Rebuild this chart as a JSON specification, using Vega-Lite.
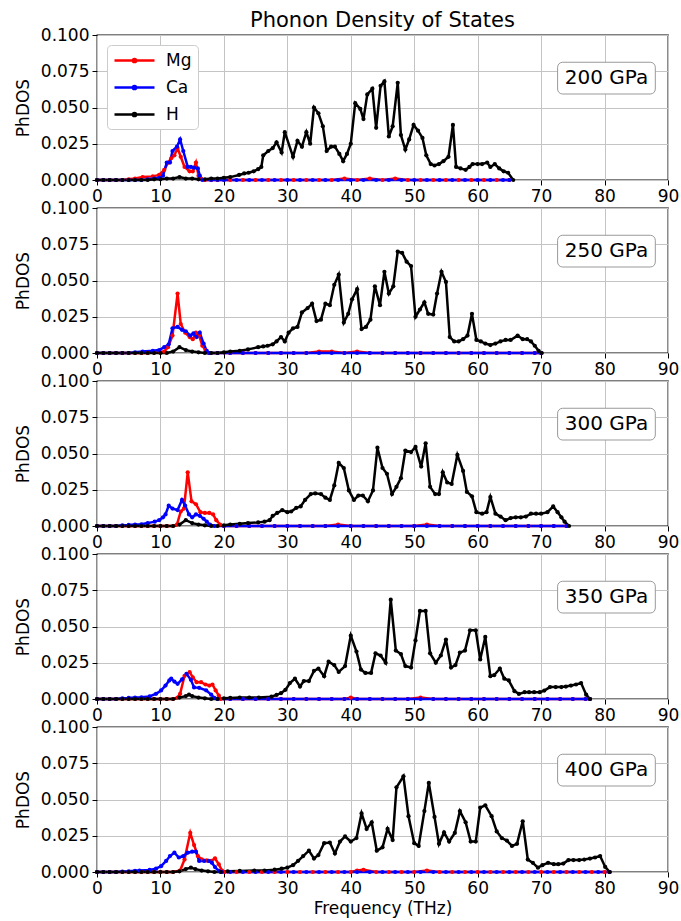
{
"$schema": "https://vega.github.io/schema/vega-lite/v6.json",
"padding": {"left": 13, "top": 10, "right": 0, "bottom": 2},
"title": {"text": "Phonon Density of States", "fontSize": 21, "fontWeight": "normal", "anchor": "middle", "frame": "group", "offset": -6, "color": "black"},
"config": {
 "font": "DejaVu Sans",
 "view": {"stroke": "black", "strokeWidth": 1.3},
 "axis": {"labelFontSize": 17, "titleFontSize": 17, "titleFontWeight": "normal", "labelColor": "black", "titleColor": "black", "tickColor": "black", "tickSize": 5, "labelPadding": 3, "domain": false, "gridColor": "#c4c4c4", "gridWidth": 1, "labelOverlap": false},
 "axisX": {"labelFlush": false},
 "axisY": {"titlePadding": 8}
},
"datasets": {
"p200": [
{"s":"Mg","f":0,"v":0},{"s":"Mg","f":1,"v":0},{"s":"Mg","f":2,"v":0},{"s":"Mg","f":3,"v":0},{"s":"Mg","f":4,"v":0},{"s":"Mg","f":5,"v":0.0005},{"s":"Mg","f":6,"v":0.001},{"s":"Mg","f":7.2,"v":0.002},{"s":"Mg","f":8.8,"v":0.0025},{"s":"Mg","f":9.8,"v":0.0035},{"s":"Mg","f":10.6,"v":0.007},{"s":"Mg","f":11.2,"v":0.012},{"s":"Mg","f":11.7,"v":0.015},{"s":"Mg","f":12.2,"v":0.017},{"s":"Mg","f":12.7,"v":0.022},{"s":"Mg","f":13.2,"v":0.016},{"s":"Mg","f":13.8,"v":0.009},{"s":"Mg","f":14.6,"v":0.006},{"s":"Mg","f":15.1,"v":0.006},{"s":"Mg","f":15.6,"v":0.012},{"s":"Mg","f":16,"v":0.003},{"s":"Mg","f":16.4,"v":0.001},{"s":"Mg","f":17,"v":0},{"s":"Mg","f":18,"v":0},{"s":"Mg","f":19,"v":0},{"s":"Mg","f":21,"v":0},{"s":"Mg","f":23,"v":0},{"s":"Mg","f":25,"v":0},{"s":"Mg","f":27,"v":0},{"s":"Mg","f":29,"v":0},{"s":"Mg","f":31,"v":0},{"s":"Mg","f":33,"v":0},{"s":"Mg","f":35,"v":0},{"s":"Mg","f":37,"v":0},{"s":"Mg","f":39,"v":0.001},{"s":"Mg","f":41,"v":0},{"s":"Mg","f":43,"v":0.001},{"s":"Mg","f":45,"v":0},{"s":"Mg","f":47,"v":0.001},{"s":"Mg","f":49,"v":0},{"s":"Mg","f":51,"v":0},{"s":"Mg","f":53,"v":0},{"s":"Mg","f":55,"v":0},{"s":"Mg","f":57,"v":0},{"s":"Mg","f":59,"v":0},{"s":"Mg","f":61,"v":0},{"s":"Mg","f":63,"v":0},{"s":"Mg","f":65,"v":0},
{"s":"Ca","f":0,"v":0},{"s":"Ca","f":1,"v":0},{"s":"Ca","f":2,"v":0},{"s":"Ca","f":3,"v":0},{"s":"Ca","f":4,"v":0},{"s":"Ca","f":5,"v":0},{"s":"Ca","f":6,"v":0},{"s":"Ca","f":7,"v":0},{"s":"Ca","f":8,"v":0.0005},{"s":"Ca","f":9,"v":0.001},{"s":"Ca","f":9.8,"v":0.0015},{"s":"Ca","f":10.4,"v":0.003},{"s":"Ca","f":11,"v":0.012},{"s":"Ca","f":11.5,"v":0.012},{"s":"Ca","f":11.9,"v":0.02},{"s":"Ca","f":12.6,"v":0.023},{"s":"Ca","f":13.1,"v":0.028},{"s":"Ca","f":13.6,"v":0.02},{"s":"Ca","f":14.3,"v":0.009},{"s":"Ca","f":14.8,"v":0.009},{"s":"Ca","f":15.3,"v":0.0085},{"s":"Ca","f":15.9,"v":0.008},{"s":"Ca","f":16.2,"v":0.003},{"s":"Ca","f":16.6,"v":0},{"s":"Ca","f":18,"v":0},{"s":"Ca","f":19,"v":0},{"s":"Ca","f":20,"v":0},{"s":"Ca","f":22,"v":0},{"s":"Ca","f":24,"v":0},{"s":"Ca","f":26,"v":0},{"s":"Ca","f":28,"v":0},{"s":"Ca","f":30,"v":0},{"s":"Ca","f":32,"v":0},{"s":"Ca","f":34,"v":0},{"s":"Ca","f":36,"v":0},{"s":"Ca","f":38,"v":0},{"s":"Ca","f":40,"v":0},{"s":"Ca","f":42,"v":0},{"s":"Ca","f":44,"v":0},{"s":"Ca","f":46,"v":0},{"s":"Ca","f":48,"v":0},{"s":"Ca","f":50,"v":0},{"s":"Ca","f":52,"v":0},{"s":"Ca","f":54,"v":0},{"s":"Ca","f":56,"v":0},{"s":"Ca","f":58,"v":0},{"s":"Ca","f":60,"v":0},{"s":"Ca","f":62,"v":0},{"s":"Ca","f":64,"v":0},{"s":"Ca","f":65,"v":0},
{"s":"H","f":0,"v":0},{"s":"H","f":1,"v":0},{"s":"H","f":2,"v":0},{"s":"H","f":3,"v":0},{"s":"H","f":4,"v":0},{"s":"H","f":5,"v":0},{"s":"H","f":6,"v":0},{"s":"H","f":7,"v":0},{"s":"H","f":8,"v":0},{"s":"H","f":9,"v":0.0005},{"s":"H","f":10,"v":0.0005},{"s":"H","f":11,"v":0.001},{"s":"H","f":12,"v":0.001},{"s":"H","f":13,"v":0.002},{"s":"H","f":14,"v":0.001},{"s":"H","f":15,"v":0.001},{"s":"H","f":16,"v":0.0005},{"s":"H","f":17,"v":0.0005},{"s":"H","f":18,"v":0.001},{"s":"H","f":19,"v":0.001},{"s":"H","f":20,"v":0.0015},{"s":"H","f":21,"v":0.002},{"s":"H","f":22.4,"v":0.0035},{"s":"H","f":23.2,"v":0.0045},{"s":"H","f":23.9,"v":0.005},{"s":"H","f":24.7,"v":0.006},{"s":"H","f":25.4,"v":0.0075},{"s":"H","f":25.9,"v":0.009},{"s":"H","f":26.2,"v":0.017},{"s":"H","f":27,"v":0.02},{"s":"H","f":27.7,"v":0.022},{"s":"H","f":28.3,"v":0.026},{"s":"H","f":29.1,"v":0.019},{"s":"H","f":29.6,"v":0.033},{"s":"H","f":30.9,"v":0.016},{"s":"H","f":31.6,"v":0.027},{"s":"H","f":32.3,"v":0.023},{"s":"H","f":33,"v":0.033},{"s":"H","f":33.6,"v":0.025},{"s":"H","f":34.2,"v":0.05},{"s":"H","f":34.9,"v":0.046},{"s":"H","f":35.6,"v":0.037},{"s":"H","f":36.2,"v":0.02},{"s":"H","f":36.9,"v":0.023},{"s":"H","f":37.5,"v":0.023},{"s":"H","f":38.2,"v":0.018},{"s":"H","f":38.8,"v":0.013},{"s":"H","f":39.4,"v":0.018},{"s":"H","f":40,"v":0.025},{"s":"H","f":40.7,"v":0.053},{"s":"H","f":41.5,"v":0.049},{"s":"H","f":42,"v":0.042},{"s":"H","f":42.6,"v":0.059},{"s":"H","f":43.4,"v":0.063},{"s":"H","f":44,"v":0.036},{"s":"H","f":44.7,"v":0.065},{"s":"H","f":45.3,"v":0.068},{"s":"H","f":46,"v":0.03},{"s":"H","f":46.6,"v":0.037},{"s":"H","f":47.4,"v":0.067},{"s":"H","f":47.9,"v":0.031},{"s":"H","f":48.6,"v":0.021},{"s":"H","f":49.2,"v":0.028},{"s":"H","f":49.9,"v":0.038},{"s":"H","f":50.6,"v":0.034},{"s":"H","f":51.3,"v":0.029},{"s":"H","f":51.9,"v":0.017},{"s":"H","f":52.6,"v":0.011},{"s":"H","f":53.2,"v":0.01},{"s":"H","f":53.9,"v":0.011},{"s":"H","f":54.6,"v":0.013},{"s":"H","f":55.4,"v":0.016},{"s":"H","f":56.1,"v":0.038},{"s":"H","f":56.6,"v":0.009},{"s":"H","f":57.3,"v":0.008},{"s":"H","f":58.1,"v":0.007},{"s":"H","f":58.7,"v":0.009},{"s":"H","f":59.2,"v":0.011},{"s":"H","f":60,"v":0.011},{"s":"H","f":60.7,"v":0.011},{"s":"H","f":61.5,"v":0.012},{"s":"H","f":62,"v":0.009},{"s":"H","f":62.7,"v":0.011},{"s":"H","f":63.4,"v":0.008},{"s":"H","f":64.1,"v":0.006},{"s":"H","f":64.8,"v":0.005},{"s":"H","f":65.6,"v":0}
],
"p250": [
{"s":"Mg","f":0,"v":0},{"s":"Mg","f":1,"v":0},{"s":"Mg","f":2,"v":0},{"s":"Mg","f":3,"v":0},{"s":"Mg","f":4,"v":0},{"s":"Mg","f":5,"v":0},{"s":"Mg","f":6,"v":0},{"s":"Mg","f":7,"v":0},{"s":"Mg","f":8,"v":0},{"s":"Mg","f":9,"v":0.0003},{"s":"Mg","f":10,"v":0.0005},{"s":"Mg","f":10.6,"v":0.001},{"s":"Mg","f":11.2,"v":0.004},{"s":"Mg","f":11.9,"v":0.012},{"s":"Mg","f":12.7,"v":0.041},{"s":"Mg","f":13.2,"v":0.02},{"s":"Mg","f":13.9,"v":0.014},{"s":"Mg","f":14.6,"v":0.011},{"s":"Mg","f":15.1,"v":0.0095},{"s":"Mg","f":15.6,"v":0.014},{"s":"Mg","f":16.1,"v":0.012},{"s":"Mg","f":16.6,"v":0.005},{"s":"Mg","f":17.1,"v":0.002},{"s":"Mg","f":17.6,"v":0},{"s":"Mg","f":19,"v":0},{"s":"Mg","f":21,"v":0},{"s":"Mg","f":23,"v":0},{"s":"Mg","f":25,"v":0},{"s":"Mg","f":27,"v":0},{"s":"Mg","f":29,"v":0},{"s":"Mg","f":31,"v":0},{"s":"Mg","f":33,"v":0},{"s":"Mg","f":35,"v":0.001},{"s":"Mg","f":37,"v":0.001},{"s":"Mg","f":39,"v":0},{"s":"Mg","f":41,"v":0.001},{"s":"Mg","f":43,"v":0},{"s":"Mg","f":45,"v":0},{"s":"Mg","f":47,"v":0},{"s":"Mg","f":49,"v":0},{"s":"Mg","f":51,"v":0},{"s":"Mg","f":53,"v":0},{"s":"Mg","f":55,"v":0},{"s":"Mg","f":57,"v":0},{"s":"Mg","f":59,"v":0},{"s":"Mg","f":61,"v":0},{"s":"Mg","f":63,"v":0},{"s":"Mg","f":65,"v":0},{"s":"Mg","f":67,"v":0},{"s":"Mg","f":69,"v":0},{"s":"Mg","f":70,"v":0},
{"s":"Ca","f":0,"v":0},{"s":"Ca","f":1,"v":0},{"s":"Ca","f":2,"v":0},{"s":"Ca","f":3,"v":0},{"s":"Ca","f":4,"v":0},{"s":"Ca","f":5,"v":0},{"s":"Ca","f":6,"v":0.0005},{"s":"Ca","f":7.2,"v":0.001},{"s":"Ca","f":8.8,"v":0.0015},{"s":"Ca","f":9.8,"v":0.002},{"s":"Ca","f":10.6,"v":0.004},{"s":"Ca","f":11.3,"v":0.006},{"s":"Ca","f":11.9,"v":0.017},{"s":"Ca","f":12.7,"v":0.018},{"s":"Ca","f":13.4,"v":0.016},{"s":"Ca","f":14,"v":0.015},{"s":"Ca","f":14.7,"v":0.012},{"s":"Ca","f":15.2,"v":0.0135},{"s":"Ca","f":15.7,"v":0.011},{"s":"Ca","f":16.2,"v":0.014},{"s":"Ca","f":16.8,"v":0.0065},{"s":"Ca","f":17.3,"v":0.0014},{"s":"Ca","f":17.7,"v":0},{"s":"Ca","f":19,"v":0},{"s":"Ca","f":21,"v":0},{"s":"Ca","f":23,"v":0},{"s":"Ca","f":25,"v":0},{"s":"Ca","f":27,"v":0},{"s":"Ca","f":29,"v":0},{"s":"Ca","f":31,"v":0},{"s":"Ca","f":33,"v":0},{"s":"Ca","f":35,"v":0},{"s":"Ca","f":37,"v":0},{"s":"Ca","f":39,"v":0},{"s":"Ca","f":41,"v":0},{"s":"Ca","f":43,"v":0},{"s":"Ca","f":45,"v":0},{"s":"Ca","f":47,"v":0},{"s":"Ca","f":49,"v":0},{"s":"Ca","f":51,"v":0},{"s":"Ca","f":53,"v":0},{"s":"Ca","f":55,"v":0},{"s":"Ca","f":57,"v":0},{"s":"Ca","f":59,"v":0},{"s":"Ca","f":61,"v":0},{"s":"Ca","f":63,"v":0},{"s":"Ca","f":65,"v":0},{"s":"Ca","f":67,"v":0},{"s":"Ca","f":69,"v":0},{"s":"Ca","f":70,"v":0},
{"s":"H","f":0,"v":0},{"s":"H","f":1,"v":0},{"s":"H","f":2,"v":0},{"s":"H","f":3,"v":0},{"s":"H","f":4,"v":0},{"s":"H","f":5,"v":0},{"s":"H","f":6,"v":0},{"s":"H","f":7,"v":0},{"s":"H","f":8,"v":0},{"s":"H","f":9,"v":0},{"s":"H","f":10,"v":0},{"s":"H","f":11,"v":0},{"s":"H","f":12,"v":0.001},{"s":"H","f":13,"v":0.004},{"s":"H","f":14,"v":0.002},{"s":"H","f":15,"v":0.001},{"s":"H","f":16,"v":0.0005},{"s":"H","f":17,"v":0},{"s":"H","f":18,"v":0},{"s":"H","f":19,"v":0},{"s":"H","f":20,"v":0.0005},{"s":"H","f":21,"v":0.001},{"s":"H","f":22.5,"v":0.0015},{"s":"H","f":23.8,"v":0.0025},{"s":"H","f":25.4,"v":0.004},{"s":"H","f":26.2,"v":0.0045},{"s":"H","f":26.9,"v":0.005},{"s":"H","f":27.7,"v":0.006},{"s":"H","f":28.3,"v":0.008},{"s":"H","f":29,"v":0.011},{"s":"H","f":29.6,"v":0.008},{"s":"H","f":30.2,"v":0.014},{"s":"H","f":30.9,"v":0.017},{"s":"H","f":31.6,"v":0.018},{"s":"H","f":32.3,"v":0.028},{"s":"H","f":33.2,"v":0.031},{"s":"H","f":33.9,"v":0.034},{"s":"H","f":34.6,"v":0.022},{"s":"H","f":35.3,"v":0.023},{"s":"H","f":36,"v":0.034},{"s":"H","f":36.7,"v":0.033},{"s":"H","f":37.4,"v":0.047},{"s":"H","f":38.1,"v":0.054},{"s":"H","f":38.9,"v":0.021},{"s":"H","f":39.6,"v":0.027},{"s":"H","f":40.2,"v":0.037},{"s":"H","f":41,"v":0.044},{"s":"H","f":41.7,"v":0.0165},{"s":"H","f":42.4,"v":0.018},{"s":"H","f":43.1,"v":0.023},{"s":"H","f":43.8,"v":0.046},{"s":"H","f":44.6,"v":0.033},{"s":"H","f":45.3,"v":0.056},{"s":"H","f":46,"v":0.041},{"s":"H","f":46.7,"v":0.046},{"s":"H","f":47.4,"v":0.07},{"s":"H","f":48.1,"v":0.069},{"s":"H","f":48.8,"v":0.063},{"s":"H","f":49.5,"v":0.06},{"s":"H","f":50.2,"v":0.025},{"s":"H","f":50.9,"v":0.03},{"s":"H","f":51.6,"v":0.035},{"s":"H","f":52.2,"v":0.027},{"s":"H","f":53,"v":0.0265},{"s":"H","f":53.6,"v":0.041},{"s":"H","f":54.3,"v":0.056},{"s":"H","f":55,"v":0.049},{"s":"H","f":55.6,"v":0.011},{"s":"H","f":56.3,"v":0.008},{"s":"H","f":57,"v":0.008},{"s":"H","f":57.7,"v":0.0095},{"s":"H","f":58.4,"v":0.012},{"s":"H","f":59.1,"v":0.027},{"s":"H","f":59.8,"v":0.009},{"s":"H","f":60.5,"v":0.008},{"s":"H","f":61.2,"v":0.0065},{"s":"H","f":62,"v":0.0055},{"s":"H","f":62.8,"v":0.0065},{"s":"H","f":63.6,"v":0.008},{"s":"H","f":64.4,"v":0.009},{"s":"H","f":65.2,"v":0.009},{"s":"H","f":66.3,"v":0.012},{"s":"H","f":67.1,"v":0.0095},{"s":"H","f":67.8,"v":0.0095},{"s":"H","f":68.4,"v":0.008},{"s":"H","f":69,"v":0.005},{"s":"H","f":69.6,"v":0.0015},{"s":"H","f":70.1,"v":0}
],
"p300": [
{"s":"Mg","f":0,"v":0},{"s":"Mg","f":1,"v":0},{"s":"Mg","f":2,"v":0},{"s":"Mg","f":3,"v":0},{"s":"Mg","f":4,"v":0},{"s":"Mg","f":5,"v":0},{"s":"Mg","f":6,"v":0},{"s":"Mg","f":7,"v":0},{"s":"Mg","f":8,"v":0},{"s":"Mg","f":9,"v":0},{"s":"Mg","f":10,"v":0},{"s":"Mg","f":11,"v":0},{"s":"Mg","f":12,"v":0},{"s":"Mg","f":12.6,"v":0.001},{"s":"Mg","f":13.2,"v":0.01},{"s":"Mg","f":13.7,"v":0.012},{"s":"Mg","f":14.3,"v":0.037},{"s":"Mg","f":14.9,"v":0.017},{"s":"Mg","f":15.6,"v":0.015},{"s":"Mg","f":16.3,"v":0.0095},{"s":"Mg","f":17,"v":0.009},{"s":"Mg","f":17.7,"v":0.009},{"s":"Mg","f":18.3,"v":0.008},{"s":"Mg","f":18.8,"v":0.004},{"s":"Mg","f":19.4,"v":0.001},{"s":"Mg","f":20,"v":0},{"s":"Mg","f":22,"v":0},{"s":"Mg","f":24,"v":0},{"s":"Mg","f":26,"v":0},{"s":"Mg","f":28,"v":0},{"s":"Mg","f":30,"v":0},{"s":"Mg","f":32,"v":0},{"s":"Mg","f":34,"v":0},{"s":"Mg","f":36,"v":0},{"s":"Mg","f":38,"v":0.001},{"s":"Mg","f":40,"v":0},{"s":"Mg","f":42,"v":0},{"s":"Mg","f":44,"v":0},{"s":"Mg","f":46,"v":0},{"s":"Mg","f":48,"v":0},{"s":"Mg","f":50,"v":0},{"s":"Mg","f":52,"v":0.001},{"s":"Mg","f":54,"v":0},{"s":"Mg","f":56,"v":0},{"s":"Mg","f":58,"v":0},{"s":"Mg","f":60,"v":0},{"s":"Mg","f":62,"v":0},{"s":"Mg","f":64,"v":0},{"s":"Mg","f":66,"v":0},{"s":"Mg","f":68,"v":0},{"s":"Mg","f":70,"v":0},{"s":"Mg","f":72,"v":0},{"s":"Mg","f":74,"v":0},
{"s":"Ca","f":0,"v":0},{"s":"Ca","f":1,"v":0},{"s":"Ca","f":2,"v":0},{"s":"Ca","f":3,"v":0},{"s":"Ca","f":4,"v":0.0005},{"s":"Ca","f":5,"v":0.0007},{"s":"Ca","f":6,"v":0.001},{"s":"Ca","f":7,"v":0.0012},{"s":"Ca","f":8,"v":0.002},{"s":"Ca","f":9.1,"v":0.003},{"s":"Ca","f":9.8,"v":0.004},{"s":"Ca","f":10.4,"v":0.006},{"s":"Ca","f":10.8,"v":0.008},{"s":"Ca","f":11.3,"v":0.014},{"s":"Ca","f":11.9,"v":0.012},{"s":"Ca","f":12.7,"v":0.011},{"s":"Ca","f":13.4,"v":0.018},{"s":"Ca","f":13.9,"v":0.014},{"s":"Ca","f":14.5,"v":0.008},{"s":"Ca","f":15,"v":0.006},{"s":"Ca","f":15.6,"v":0.008},{"s":"Ca","f":16.2,"v":0.007},{"s":"Ca","f":16.8,"v":0.005},{"s":"Ca","f":17.3,"v":0.003},{"s":"Ca","f":17.8,"v":0.001},{"s":"Ca","f":18.5,"v":0},{"s":"Ca","f":20,"v":0},{"s":"Ca","f":22,"v":0},{"s":"Ca","f":24,"v":0},{"s":"Ca","f":26,"v":0},{"s":"Ca","f":28,"v":0},{"s":"Ca","f":30,"v":0},{"s":"Ca","f":32,"v":0},{"s":"Ca","f":34,"v":0},{"s":"Ca","f":36,"v":0},{"s":"Ca","f":38,"v":0},{"s":"Ca","f":40,"v":0},{"s":"Ca","f":42,"v":0},{"s":"Ca","f":44,"v":0},{"s":"Ca","f":46,"v":0},{"s":"Ca","f":48,"v":0},{"s":"Ca","f":50,"v":0},{"s":"Ca","f":52,"v":0},{"s":"Ca","f":54,"v":0},{"s":"Ca","f":56,"v":0},{"s":"Ca","f":58,"v":0},{"s":"Ca","f":60,"v":0},{"s":"Ca","f":62,"v":0},{"s":"Ca","f":64,"v":0},{"s":"Ca","f":66,"v":0},{"s":"Ca","f":68,"v":0},{"s":"Ca","f":70,"v":0},{"s":"Ca","f":72,"v":0},{"s":"Ca","f":74,"v":0},
{"s":"H","f":0,"v":0},{"s":"H","f":1,"v":0},{"s":"H","f":2,"v":0},{"s":"H","f":3,"v":0},{"s":"H","f":4,"v":0},{"s":"H","f":5,"v":0},{"s":"H","f":6,"v":0},{"s":"H","f":7,"v":0},{"s":"H","f":8,"v":0},{"s":"H","f":9,"v":0},{"s":"H","f":10,"v":0},{"s":"H","f":11,"v":0},{"s":"H","f":12,"v":0},{"s":"H","f":13,"v":0.001},{"s":"H","f":14,"v":0.004},{"s":"H","f":15,"v":0.002},{"s":"H","f":16,"v":0.001},{"s":"H","f":17,"v":0.0005},{"s":"H","f":18,"v":0},{"s":"H","f":19,"v":0},{"s":"H","f":20,"v":0.0005},{"s":"H","f":21,"v":0.001},{"s":"H","f":22.5,"v":0.0015},{"s":"H","f":23.8,"v":0.002},{"s":"H","f":25.4,"v":0.0025},{"s":"H","f":26.4,"v":0.003},{"s":"H","f":27.2,"v":0.004},{"s":"H","f":27.7,"v":0.007},{"s":"H","f":28.4,"v":0.009},{"s":"H","f":29.2,"v":0.011},{"s":"H","f":30,"v":0.0095},{"s":"H","f":30.6,"v":0.01},{"s":"H","f":31.4,"v":0.0125},{"s":"H","f":32.1,"v":0.0135},{"s":"H","f":32.8,"v":0.018},{"s":"H","f":33.7,"v":0.022},{"s":"H","f":34.4,"v":0.0225},{"s":"H","f":35.3,"v":0.022},{"s":"H","f":36,"v":0.0195},{"s":"H","f":36.7,"v":0.018},{"s":"H","f":37.4,"v":0.028},{"s":"H","f":38.1,"v":0.0435},{"s":"H","f":38.9,"v":0.04},{"s":"H","f":39.7,"v":0.0245},{"s":"H","f":40.5,"v":0.018},{"s":"H","f":41.2,"v":0.021},{"s":"H","f":41.9,"v":0.021},{"s":"H","f":42.7,"v":0.017},{"s":"H","f":43.5,"v":0.0245},{"s":"H","f":44.2,"v":0.054},{"s":"H","f":45,"v":0.04},{"s":"H","f":45.7,"v":0.036},{"s":"H","f":46.5,"v":0.022},{"s":"H","f":47.2,"v":0.027},{"s":"H","f":47.9,"v":0.033},{"s":"H","f":48.6,"v":0.052},{"s":"H","f":49.5,"v":0.051},{"s":"H","f":50.2,"v":0.0545},{"s":"H","f":51.1,"v":0.041},{"s":"H","f":51.8,"v":0.057},{"s":"H","f":52.5,"v":0.027},{"s":"H","f":53.3,"v":0.022},{"s":"H","f":53.9,"v":0.022},{"s":"H","f":54.5,"v":0.037},{"s":"H","f":55.2,"v":0.03},{"s":"H","f":55.9,"v":0.029},{"s":"H","f":56.8,"v":0.049},{"s":"H","f":57.7,"v":0.038},{"s":"H","f":58.3,"v":0.0235},{"s":"H","f":59.1,"v":0.0205},{"s":"H","f":59.8,"v":0.0095},{"s":"H","f":60.7,"v":0.0085},{"s":"H","f":61.4,"v":0.0095},{"s":"H","f":62,"v":0.02},{"s":"H","f":62.8,"v":0.0085},{"s":"H","f":63.6,"v":0.0065},{"s":"H","f":64.4,"v":0.004},{"s":"H","f":65.2,"v":0.0055},{"s":"H","f":66,"v":0.006},{"s":"H","f":66.8,"v":0.006},{"s":"H","f":67.6,"v":0.0065},{"s":"H","f":68.4,"v":0.0085},{"s":"H","f":69.2,"v":0.0085},{"s":"H","f":70,"v":0.0085},{"s":"H","f":71,"v":0.0095},{"s":"H","f":71.9,"v":0.0135},{"s":"H","f":72.6,"v":0.0095},{"s":"H","f":73.2,"v":0.006},{"s":"H","f":73.7,"v":0.003},{"s":"H","f":74.4,"v":0}
],
"p350": [
{"s":"Mg","f":0,"v":0},{"s":"Mg","f":1,"v":0},{"s":"Mg","f":2,"v":0},{"s":"Mg","f":3,"v":0},{"s":"Mg","f":4,"v":0},{"s":"Mg","f":5,"v":0},{"s":"Mg","f":6,"v":0},{"s":"Mg","f":7,"v":0},{"s":"Mg","f":8,"v":0},{"s":"Mg","f":9,"v":0},{"s":"Mg","f":10,"v":0},{"s":"Mg","f":11,"v":0},{"s":"Mg","f":12,"v":0},{"s":"Mg","f":12.7,"v":0.001},{"s":"Mg","f":13.1,"v":0.0036},{"s":"Mg","f":13.8,"v":0.016},{"s":"Mg","f":14.6,"v":0.0185},{"s":"Mg","f":15.1,"v":0.015},{"s":"Mg","f":15.7,"v":0.0116},{"s":"Mg","f":16.4,"v":0.0116},{"s":"Mg","f":17.1,"v":0.01},{"s":"Mg","f":17.7,"v":0.0093},{"s":"Mg","f":18.2,"v":0.01},{"s":"Mg","f":18.7,"v":0.0059},{"s":"Mg","f":19.2,"v":0.0024},{"s":"Mg","f":19.5,"v":0},{"s":"Mg","f":21,"v":0},{"s":"Mg","f":23,"v":0},{"s":"Mg","f":25,"v":0},{"s":"Mg","f":27,"v":0},{"s":"Mg","f":29,"v":0},{"s":"Mg","f":31,"v":0},{"s":"Mg","f":33,"v":0},{"s":"Mg","f":35,"v":0},{"s":"Mg","f":37,"v":0},{"s":"Mg","f":39,"v":0},{"s":"Mg","f":40,"v":0.001},{"s":"Mg","f":41,"v":0},{"s":"Mg","f":43,"v":0},{"s":"Mg","f":45,"v":0},{"s":"Mg","f":47,"v":0},{"s":"Mg","f":49,"v":0},{"s":"Mg","f":51,"v":0.001},{"s":"Mg","f":53,"v":0},{"s":"Mg","f":55,"v":0},{"s":"Mg","f":57,"v":0},{"s":"Mg","f":59,"v":0},{"s":"Mg","f":61,"v":0},{"s":"Mg","f":63,"v":0},{"s":"Mg","f":65,"v":0},{"s":"Mg","f":67,"v":0},{"s":"Mg","f":69,"v":0},{"s":"Mg","f":71,"v":0},{"s":"Mg","f":73,"v":0},{"s":"Mg","f":75,"v":0},{"s":"Mg","f":77,"v":0},{"s":"Mg","f":77.7,"v":0},
{"s":"Ca","f":0,"v":0},{"s":"Ca","f":1,"v":0},{"s":"Ca","f":2,"v":0},{"s":"Ca","f":3,"v":0},{"s":"Ca","f":4,"v":0.0005},{"s":"Ca","f":5,"v":0.0007},{"s":"Ca","f":6,"v":0.001},{"s":"Ca","f":7,"v":0.0012},{"s":"Ca","f":8.3,"v":0.0018},{"s":"Ca","f":9.3,"v":0.0036},{"s":"Ca","f":10.1,"v":0.0059},{"s":"Ca","f":10.8,"v":0.0093},{"s":"Ca","f":11.4,"v":0.0128},{"s":"Ca","f":11.7,"v":0.014},{"s":"Ca","f":12.2,"v":0.012},{"s":"Ca","f":12.7,"v":0.0105},{"s":"Ca","f":13.4,"v":0.0135},{"s":"Ca","f":14.1,"v":0.0174},{"s":"Ca","f":14.8,"v":0.0132},{"s":"Ca","f":15.3,"v":0.008},{"s":"Ca","f":16.1,"v":0.0077},{"s":"Ca","f":17.2,"v":0.006},{"s":"Ca","f":18,"v":0.003},{"s":"Ca","f":18.5,"v":0.0008},{"s":"Ca","f":19,"v":0},{"s":"Ca","f":21,"v":0},{"s":"Ca","f":23,"v":0},{"s":"Ca","f":25,"v":0},{"s":"Ca","f":27,"v":0},{"s":"Ca","f":29,"v":0},{"s":"Ca","f":31,"v":0},{"s":"Ca","f":33,"v":0},{"s":"Ca","f":35,"v":0},{"s":"Ca","f":37,"v":0},{"s":"Ca","f":39,"v":0},{"s":"Ca","f":41,"v":0},{"s":"Ca","f":43,"v":0},{"s":"Ca","f":45,"v":0},{"s":"Ca","f":47,"v":0},{"s":"Ca","f":49,"v":0},{"s":"Ca","f":51,"v":0},{"s":"Ca","f":53,"v":0},{"s":"Ca","f":55,"v":0},{"s":"Ca","f":57,"v":0},{"s":"Ca","f":59,"v":0},{"s":"Ca","f":61,"v":0},{"s":"Ca","f":63,"v":0},{"s":"Ca","f":65,"v":0},{"s":"Ca","f":67,"v":0},{"s":"Ca","f":69,"v":0},{"s":"Ca","f":71,"v":0},{"s":"Ca","f":73,"v":0},{"s":"Ca","f":75,"v":0},{"s":"Ca","f":77,"v":0},{"s":"Ca","f":77.7,"v":0},
{"s":"H","f":0,"v":0},{"s":"H","f":1,"v":0},{"s":"H","f":2,"v":0},{"s":"H","f":3,"v":0},{"s":"H","f":4,"v":0},{"s":"H","f":5,"v":0},{"s":"H","f":6,"v":0},{"s":"H","f":7,"v":0},{"s":"H","f":8,"v":0},{"s":"H","f":9,"v":0},{"s":"H","f":10,"v":0},{"s":"H","f":11,"v":0},{"s":"H","f":12,"v":0},{"s":"H","f":13,"v":0.001},{"s":"H","f":14,"v":0.002},{"s":"H","f":14.5,"v":0.003},{"s":"H","f":15,"v":0.002},{"s":"H","f":16,"v":0.001},{"s":"H","f":17,"v":0.0005},{"s":"H","f":18,"v":0},{"s":"H","f":19,"v":0},{"s":"H","f":20,"v":0.0005},{"s":"H","f":21,"v":0.0007},{"s":"H","f":22.5,"v":0.001},{"s":"H","f":24,"v":0.001},{"s":"H","f":25.5,"v":0.001},{"s":"H","f":27.5,"v":0.0016},{"s":"H","f":28.3,"v":0.0028},{"s":"H","f":29,"v":0.004},{"s":"H","f":29.7,"v":0.0063},{"s":"H","f":30.4,"v":0.011},{"s":"H","f":31.2,"v":0.014},{"s":"H","f":32,"v":0.0086},{"s":"H","f":32.6,"v":0.0124},{"s":"H","f":33.4,"v":0.0124},{"s":"H","f":34.2,"v":0.0194},{"s":"H","f":34.9,"v":0.021},{"s":"H","f":35.8,"v":0.0157},{"s":"H","f":36.5,"v":0.0257},{"s":"H","f":37.4,"v":0.0234},{"s":"H","f":38.1,"v":0.0187},{"s":"H","f":39.1,"v":0.0227},{"s":"H","f":40,"v":0.0437},{"s":"H","f":40.9,"v":0.0327},{"s":"H","f":41.6,"v":0.0203},{"s":"H","f":42.3,"v":0.018},{"s":"H","f":43.2,"v":0.018},{"s":"H","f":43.9,"v":0.0315},{"s":"H","f":44.7,"v":0.03},{"s":"H","f":45.5,"v":0.025},{"s":"H","f":46.3,"v":0.0685},{"s":"H","f":47.1,"v":0.0334},{"s":"H","f":47.9,"v":0.031},{"s":"H","f":48.6,"v":0.0227},{"s":"H","f":49.5,"v":0.0217},{"s":"H","f":50.2,"v":0.0404},{"s":"H","f":50.9,"v":0.0607},{"s":"H","f":51.8,"v":0.0607},{"s":"H","f":52.5,"v":0.0315},{"s":"H","f":53.4,"v":0.025},{"s":"H","f":54.2,"v":0.03},{"s":"H","f":55,"v":0.041},{"s":"H","f":55.8,"v":0.0217},{"s":"H","f":56.5,"v":0.0234},{"s":"H","f":57.2,"v":0.032},{"s":"H","f":58,"v":0.0334},{"s":"H","f":58.8,"v":0.0474},{"s":"H","f":59.7,"v":0.0474},{"s":"H","f":60.4,"v":0.0273},{"s":"H","f":61.2,"v":0.0428},{"s":"H","f":62,"v":0.0157},{"s":"H","f":62.6,"v":0.0164},{"s":"H","f":63.5,"v":0.021},{"s":"H","f":64.2,"v":0.014},{"s":"H","f":64.9,"v":0.0128},{"s":"H","f":65.8,"v":0.0054},{"s":"H","f":66.5,"v":0.0035},{"s":"H","f":67.4,"v":0.0047},{"s":"H","f":68.1,"v":0.0047},{"s":"H","f":68.9,"v":0.0047},{"s":"H","f":69.8,"v":0.0047},{"s":"H","f":70.5,"v":0.0058},{"s":"H","f":71.4,"v":0.0082},{"s":"H","f":72.3,"v":0.0082},{"s":"H","f":73.2,"v":0.0082},{"s":"H","f":73.9,"v":0.0086},{"s":"H","f":74.7,"v":0.0093},{"s":"H","f":75.5,"v":0.01},{"s":"H","f":76.3,"v":0.011},{"s":"H","f":77.1,"v":0.003},{"s":"H","f":77.7,"v":0}
],
"p400": [
{"s":"Mg","f":0,"v":0},{"s":"Mg","f":1,"v":0},{"s":"Mg","f":2,"v":0},{"s":"Mg","f":3,"v":0},{"s":"Mg","f":4,"v":0},{"s":"Mg","f":5,"v":0},{"s":"Mg","f":6,"v":0},{"s":"Mg","f":7,"v":0},{"s":"Mg","f":8,"v":0},{"s":"Mg","f":9,"v":0},{"s":"Mg","f":10,"v":0},{"s":"Mg","f":11,"v":0},{"s":"Mg","f":12,"v":0},{"s":"Mg","f":13.1,"v":0.001},{"s":"Mg","f":13.8,"v":0.0087},{"s":"Mg","f":14.7,"v":0.027},{"s":"Mg","f":15.3,"v":0.0186},{"s":"Mg","f":15.9,"v":0.011},{"s":"Mg","f":16.5,"v":0.0087},{"s":"Mg","f":17.3,"v":0.008},{"s":"Mg","f":18,"v":0.0076},{"s":"Mg","f":18.6,"v":0.0094},{"s":"Mg","f":19.2,"v":0.0053},{"s":"Mg","f":19.7,"v":0.001},{"s":"Mg","f":20.1,"v":0},{"s":"Mg","f":22,"v":0},{"s":"Mg","f":24,"v":0},{"s":"Mg","f":26,"v":0},{"s":"Mg","f":28,"v":0},{"s":"Mg","f":30,"v":0},{"s":"Mg","f":32,"v":0},{"s":"Mg","f":34,"v":0},{"s":"Mg","f":36,"v":0},{"s":"Mg","f":38,"v":0},{"s":"Mg","f":40,"v":0},{"s":"Mg","f":41,"v":0.001},{"s":"Mg","f":42,"v":0.0015},{"s":"Mg","f":44,"v":0},{"s":"Mg","f":46,"v":0},{"s":"Mg","f":48,"v":0},{"s":"Mg","f":50,"v":0},{"s":"Mg","f":52,"v":0.001},{"s":"Mg","f":54,"v":0},{"s":"Mg","f":56,"v":0},{"s":"Mg","f":58,"v":0},{"s":"Mg","f":60,"v":0},{"s":"Mg","f":62,"v":0},{"s":"Mg","f":64,"v":0},{"s":"Mg","f":66,"v":0},{"s":"Mg","f":68,"v":0},{"s":"Mg","f":70,"v":0},{"s":"Mg","f":72,"v":0},{"s":"Mg","f":74,"v":0},{"s":"Mg","f":76,"v":0},{"s":"Mg","f":78,"v":0},{"s":"Mg","f":80,"v":0},{"s":"Mg","f":80.8,"v":0},
{"s":"Ca","f":0,"v":0},{"s":"Ca","f":1,"v":0},{"s":"Ca","f":2,"v":0},{"s":"Ca","f":3,"v":0},{"s":"Ca","f":4,"v":0.0003},{"s":"Ca","f":5,"v":0.0005},{"s":"Ca","f":6,"v":0.0008},{"s":"Ca","f":6.7,"v":0.001},{"s":"Ca","f":8.3,"v":0.0014},{"s":"Ca","f":9.3,"v":0.0023},{"s":"Ca","f":10.1,"v":0.004},{"s":"Ca","f":10.9,"v":0.0076},{"s":"Ca","f":11.5,"v":0.011},{"s":"Ca","f":12.2,"v":0.0133},{"s":"Ca","f":12.9,"v":0.01},{"s":"Ca","f":13.6,"v":0.011},{"s":"Ca","f":14.3,"v":0.0133},{"s":"Ca","f":15,"v":0.014},{"s":"Ca","f":15.6,"v":0.014},{"s":"Ca","f":16.1,"v":0.0076},{"s":"Ca","f":16.9,"v":0.0076},{"s":"Ca","f":17.6,"v":0.0076},{"s":"Ca","f":18.1,"v":0.0064},{"s":"Ca","f":18.6,"v":0.0034},{"s":"Ca","f":19.2,"v":0.0007},{"s":"Ca","f":19.7,"v":0},{"s":"Ca","f":21,"v":0},{"s":"Ca","f":23,"v":0},{"s":"Ca","f":25,"v":0},{"s":"Ca","f":27,"v":0},{"s":"Ca","f":29,"v":0},{"s":"Ca","f":31,"v":0},{"s":"Ca","f":33,"v":0},{"s":"Ca","f":35,"v":0},{"s":"Ca","f":37,"v":0},{"s":"Ca","f":39,"v":0},{"s":"Ca","f":41,"v":0},{"s":"Ca","f":43,"v":0},{"s":"Ca","f":45,"v":0},{"s":"Ca","f":47,"v":0},{"s":"Ca","f":49,"v":0},{"s":"Ca","f":51,"v":0},{"s":"Ca","f":53,"v":0},{"s":"Ca","f":55,"v":0},{"s":"Ca","f":57,"v":0},{"s":"Ca","f":59,"v":0},{"s":"Ca","f":61,"v":0},{"s":"Ca","f":63,"v":0},{"s":"Ca","f":65,"v":0},{"s":"Ca","f":67,"v":0},{"s":"Ca","f":69,"v":0},{"s":"Ca","f":71,"v":0},{"s":"Ca","f":73,"v":0},{"s":"Ca","f":75,"v":0},{"s":"Ca","f":77,"v":0},{"s":"Ca","f":79,"v":0},{"s":"Ca","f":80.8,"v":0},
{"s":"H","f":0,"v":0},{"s":"H","f":1,"v":0},{"s":"H","f":2,"v":0},{"s":"H","f":3,"v":0},{"s":"H","f":4,"v":0},{"s":"H","f":5,"v":0},{"s":"H","f":6,"v":0},{"s":"H","f":7,"v":0},{"s":"H","f":8,"v":0},{"s":"H","f":9,"v":0},{"s":"H","f":10,"v":0},{"s":"H","f":11,"v":0},{"s":"H","f":12,"v":0},{"s":"H","f":13,"v":0.0005},{"s":"H","f":14,"v":0.002},{"s":"H","f":14.8,"v":0.003},{"s":"H","f":15.5,"v":0.002},{"s":"H","f":16.5,"v":0.001},{"s":"H","f":17.5,"v":0.0005},{"s":"H","f":18.5,"v":0},{"s":"H","f":19.5,"v":0},{"s":"H","f":20.6,"v":0.0005},{"s":"H","f":22.5,"v":0.0007},{"s":"H","f":24.8,"v":0.001},{"s":"H","f":26.4,"v":0.001},{"s":"H","f":28,"v":0.0016},{"s":"H","f":29.1,"v":0.0023},{"s":"H","f":30,"v":0.003},{"s":"H","f":30.9,"v":0.0047},{"s":"H","f":31.7,"v":0.0077},{"s":"H","f":32.5,"v":0.011},{"s":"H","f":33.4,"v":0.0147},{"s":"H","f":34.2,"v":0.0093},{"s":"H","f":34.9,"v":0.0117},{"s":"H","f":35.8,"v":0.0199},{"s":"H","f":36.7,"v":0.0203},{"s":"H","f":37.5,"v":0.0128},{"s":"H","f":38.3,"v":0.021},{"s":"H","f":39.1,"v":0.0245},{"s":"H","f":40,"v":0.021},{"s":"H","f":40.9,"v":0.0234},{"s":"H","f":41.7,"v":0.0404},{"s":"H","f":42.5,"v":0.0297},{"s":"H","f":43.3,"v":0.0343},{"s":"H","f":44.1,"v":0.0147},{"s":"H","f":45,"v":0.017},{"s":"H","f":45.8,"v":0.0297},{"s":"H","f":46.6,"v":0.022},{"s":"H","f":47.2,"v":0.0584},{"s":"H","f":48.3,"v":0.066},{"s":"H","f":49.1,"v":0.0385},{"s":"H","f":50,"v":0.0199},{"s":"H","f":50.7,"v":0.018},{"s":"H","f":51.6,"v":0.042},{"s":"H","f":52.3,"v":0.0614},{"s":"H","f":53.2,"v":0.038},{"s":"H","f":53.9,"v":0.0194},{"s":"H","f":54.7,"v":0.0273},{"s":"H","f":55.5,"v":0.021},{"s":"H","f":56.4,"v":0.0269},{"s":"H","f":57.2,"v":0.042},{"s":"H","f":58.1,"v":0.0343},{"s":"H","f":58.9,"v":0.021},{"s":"H","f":59.7,"v":0.021},{"s":"H","f":60.4,"v":0.0444},{"s":"H","f":61.2,"v":0.046},{"s":"H","f":62.2,"v":0.0385},{"s":"H","f":63,"v":0.028},{"s":"H","f":63.8,"v":0.0234},{"s":"H","f":64.6,"v":0.0217},{"s":"H","f":65.4,"v":0.018},{"s":"H","f":66.2,"v":0.0194},{"s":"H","f":67.1,"v":0.035},{"s":"H","f":67.9,"v":0.0086},{"s":"H","f":68.7,"v":0.0063},{"s":"H","f":69.5,"v":0.003},{"s":"H","f":70.2,"v":0.0047},{"s":"H","f":71.1,"v":0.0063},{"s":"H","f":72,"v":0.0054},{"s":"H","f":72.7,"v":0.0054},{"s":"H","f":73.5,"v":0.0058},{"s":"H","f":74.3,"v":0.0082},{"s":"H","f":75.1,"v":0.0082},{"s":"H","f":76,"v":0.0082},{"s":"H","f":76.8,"v":0.0086},{"s":"H","f":77.7,"v":0.0093},{"s":"H","f":78.5,"v":0.01},{"s":"H","f":79.3,"v":0.011},{"s":"H","f":80.1,"v":0.0035},{"s":"H","f":80.8,"v":0}
]
},
"resolve": {"legend": {"color": "independent"}},
"spacing": 28,
"bounds": "flush",
"vconcat": [
{"width": 571, "height": 145, "data": {"name": "p200"},
 "layer": [
  {"mark": {"type": "line", "strokeWidth": 2.5, "point": {"filled": true, "size": 18}},
   "encoding": {
    "x": {"field": "f", "type": "quantitative", "scale": {"domain": [0, 90], "nice": false}, "axis": {"values": [0,10,20,30,40,50,60,70,80,90], "title": null}},
    "y": {"field": "v", "type": "quantitative", "scale": {"domain": [0, 0.1], "nice": false}, "axis": {"values": [0,0.025,0.05,0.075,0.1], "format": ".3f", "title": "PhDOS"}},
    "color": {"field": "s", "type": "nominal", "scale": {"domain": ["Mg","Ca","H"], "range": ["#ff0000","#0000ff","#000000"]},
     "legend": {"title": null, "orient": "top-left", "offset": 10, "labelFontSize": 17, "labelColor": "black", "symbolType": "M-2.5,0H2.5M0.2,0A0.2,0.2,0,1,1,-0.2,0A0.2,0.2,0,1,1,0.2,0", "symbolSize": 256, "symbolStrokeWidth": 2.5, "fillColor": "white", "strokeColor": "#cccccc", "cornerRadius": 4, "padding": 6, "rowPadding": 9, "labelOffset": 22, "symbolOffset": 12}}
   }},
  {"data": {"values": [{"label": "200 GPa"}]}, "mark": {"type": "rect", "fill": "white", "stroke": "#999999", "strokeWidth": 1, "cornerRadius": 5},
   "encoding": {"x": {"datum": 72.6, "axis": {"values": [0,10,20,30,40,50,60,70,80,90], "title": null}}, "x2": {"datum": 88}, "y": {"datum": 0.0812, "axis": {"values": [0,0.025,0.05,0.075,0.1], "format": ".3f", "title": "PhDOS"}}, "y2": {"datum": 0.0593}}},
  {"data": {"values": [{"label": "200 GPa"}]}, "mark": {"type": "text", "fontSize": 20, "align": "center", "baseline": "middle", "color": "black"},
   "encoding": {"x": {"datum": 80.3, "axis": {"values": [0,10,20,30,40,50,60,70,80,90], "title": null}}, "y": {"datum": 0.0703, "axis": {"values": [0,0.025,0.05,0.075,0.1], "format": ".3f", "title": "PhDOS"}}, "text": {"field": "label"}}}
 ]},
{"width": 571, "height": 145, "data": {"name": "p250"},
 "layer": [
  {"mark": {"type": "line", "strokeWidth": 2.5, "point": {"filled": true, "size": 18}},
   "encoding": {
    "x": {"field": "f", "type": "quantitative", "scale": {"domain": [0, 90], "nice": false}, "axis": {"values": [0,10,20,30,40,50,60,70,80,90], "title": null}},
    "y": {"field": "v", "type": "quantitative", "scale": {"domain": [0, 0.1], "nice": false}, "axis": {"values": [0,0.025,0.05,0.075,0.1], "format": ".3f", "title": "PhDOS"}},
    "color": {"field": "s", "type": "nominal", "scale": {"domain": ["Mg","Ca","H"], "range": ["#ff0000","#0000ff","#000000"]}, "legend": null}
   }},
  {"data": {"values": [{"label": "250 GPa"}]}, "mark": {"type": "rect", "fill": "white", "stroke": "#999999", "strokeWidth": 1, "cornerRadius": 5},
   "encoding": {"x": {"datum": 72.6, "axis": {"values": [0,10,20,30,40,50,60,70,80,90], "title": null}}, "x2": {"datum": 88}, "y": {"datum": 0.0812, "axis": {"values": [0,0.025,0.05,0.075,0.1], "format": ".3f", "title": "PhDOS"}}, "y2": {"datum": 0.0593}}},
  {"data": {"values": [{"label": "250 GPa"}]}, "mark": {"type": "text", "fontSize": 20, "align": "center", "baseline": "middle", "color": "black"},
   "encoding": {"x": {"datum": 80.3, "axis": {"values": [0,10,20,30,40,50,60,70,80,90], "title": null}}, "y": {"datum": 0.0703, "axis": {"values": [0,0.025,0.05,0.075,0.1], "format": ".3f", "title": "PhDOS"}}, "text": {"field": "label"}}}
 ]},
{"width": 571, "height": 145, "data": {"name": "p300"},
 "layer": [
  {"mark": {"type": "line", "strokeWidth": 2.5, "point": {"filled": true, "size": 18}},
   "encoding": {
    "x": {"field": "f", "type": "quantitative", "scale": {"domain": [0, 90], "nice": false}, "axis": {"values": [0,10,20,30,40,50,60,70,80,90], "title": null}},
    "y": {"field": "v", "type": "quantitative", "scale": {"domain": [0, 0.1], "nice": false}, "axis": {"values": [0,0.025,0.05,0.075,0.1], "format": ".3f", "title": "PhDOS"}},
    "color": {"field": "s", "type": "nominal", "scale": {"domain": ["Mg","Ca","H"], "range": ["#ff0000","#0000ff","#000000"]}, "legend": null}
   }},
  {"data": {"values": [{"label": "300 GPa"}]}, "mark": {"type": "rect", "fill": "white", "stroke": "#999999", "strokeWidth": 1, "cornerRadius": 5},
   "encoding": {"x": {"datum": 72.6, "axis": {"values": [0,10,20,30,40,50,60,70,80,90], "title": null}}, "x2": {"datum": 88}, "y": {"datum": 0.0812, "axis": {"values": [0,0.025,0.05,0.075,0.1], "format": ".3f", "title": "PhDOS"}}, "y2": {"datum": 0.0593}}},
  {"data": {"values": [{"label": "300 GPa"}]}, "mark": {"type": "text", "fontSize": 20, "align": "center", "baseline": "middle", "color": "black"},
   "encoding": {"x": {"datum": 80.3, "axis": {"values": [0,10,20,30,40,50,60,70,80,90], "title": null}}, "y": {"datum": 0.0703, "axis": {"values": [0,0.025,0.05,0.075,0.1], "format": ".3f", "title": "PhDOS"}}, "text": {"field": "label"}}}
 ]},
{"width": 571, "height": 145, "data": {"name": "p350"},
 "layer": [
  {"mark": {"type": "line", "strokeWidth": 2.5, "point": {"filled": true, "size": 18}},
   "encoding": {
    "x": {"field": "f", "type": "quantitative", "scale": {"domain": [0, 90], "nice": false}, "axis": {"values": [0,10,20,30,40,50,60,70,80,90], "title": null}},
    "y": {"field": "v", "type": "quantitative", "scale": {"domain": [0, 0.1], "nice": false}, "axis": {"values": [0,0.025,0.05,0.075,0.1], "format": ".3f", "title": "PhDOS"}},
    "color": {"field": "s", "type": "nominal", "scale": {"domain": ["Mg","Ca","H"], "range": ["#ff0000","#0000ff","#000000"]}, "legend": null}
   }},
  {"data": {"values": [{"label": "350 GPa"}]}, "mark": {"type": "rect", "fill": "white", "stroke": "#999999", "strokeWidth": 1, "cornerRadius": 5},
   "encoding": {"x": {"datum": 72.6, "axis": {"values": [0,10,20,30,40,50,60,70,80,90], "title": null}}, "x2": {"datum": 88}, "y": {"datum": 0.0812, "axis": {"values": [0,0.025,0.05,0.075,0.1], "format": ".3f", "title": "PhDOS"}}, "y2": {"datum": 0.0593}}},
  {"data": {"values": [{"label": "350 GPa"}]}, "mark": {"type": "text", "fontSize": 20, "align": "center", "baseline": "middle", "color": "black"},
   "encoding": {"x": {"datum": 80.3, "axis": {"values": [0,10,20,30,40,50,60,70,80,90], "title": null}}, "y": {"datum": 0.0703, "axis": {"values": [0,0.025,0.05,0.075,0.1], "format": ".3f", "title": "PhDOS"}}, "text": {"field": "label"}}}
 ]},
{"width": 571, "height": 145, "data": {"name": "p400"},
 "layer": [
  {"mark": {"type": "line", "strokeWidth": 2.5, "point": {"filled": true, "size": 18}},
   "encoding": {
    "x": {"field": "f", "type": "quantitative", "scale": {"domain": [0, 90], "nice": false}, "axis": {"values": [0,10,20,30,40,50,60,70,80,90], "title": "Frequency (THz)", "titlePadding": 4}},
    "y": {"field": "v", "type": "quantitative", "scale": {"domain": [0, 0.1], "nice": false}, "axis": {"values": [0,0.025,0.05,0.075,0.1], "format": ".3f", "title": "PhDOS"}},
    "color": {"field": "s", "type": "nominal", "scale": {"domain": ["Mg","Ca","H"], "range": ["#ff0000","#0000ff","#000000"]}, "legend": null}
   }},
  {"data": {"values": [{"label": "400 GPa"}]}, "mark": {"type": "rect", "fill": "white", "stroke": "#999999", "strokeWidth": 1, "cornerRadius": 5},
   "encoding": {"x": {"datum": 72.6, "axis": {"values": [0,10,20,30,40,50,60,70,80,90], "title": "Frequency (THz)", "titlePadding": 4}}, "x2": {"datum": 88}, "y": {"datum": 0.0812, "axis": {"values": [0,0.025,0.05,0.075,0.1], "format": ".3f", "title": "PhDOS"}}, "y2": {"datum": 0.0593}}},
  {"data": {"values": [{"label": "400 GPa"}]}, "mark": {"type": "text", "fontSize": 20, "align": "center", "baseline": "middle", "color": "black"},
   "encoding": {"x": {"datum": 80.3, "axis": {"values": [0,10,20,30,40,50,60,70,80,90], "title": "Frequency (THz)", "titlePadding": 4}}, "y": {"datum": 0.0703, "axis": {"values": [0,0.025,0.05,0.075,0.1], "format": ".3f", "title": "PhDOS"}}, "text": {"field": "label"}}}
 ]}
]
}
